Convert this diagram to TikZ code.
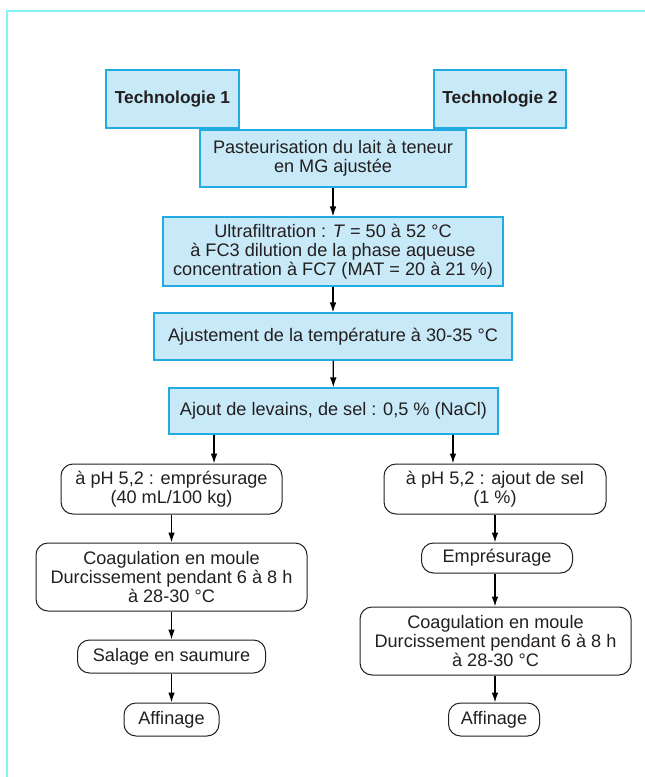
\documentclass[tikz,border=0pt]{standalone}
\usepackage{fontspec}
\setmainfont{Liberation Sans}
\usetikzlibrary{arrows.meta}
\definecolor{cadre}{HTML}{80F6F8}
\definecolor{bleufond}{HTML}{C8E9F8}
\definecolor{bleutrait}{HTML}{22AAE2}
\definecolor{encre}{HTML}{231F20}
\tikzset{
  etape/.style={draw=bleutrait, fill=bleufond, line width=0.9pt, inner sep=0.75pt, align=center, text=encre},
  phase/.style={draw=encre, rounded corners=9pt, line width=0.75pt, inner sep=0.75pt, align=center, text=encre},
  fleche/.style={-{Latex[length=7.5pt,width=5pt]}, line width=1pt, black},
}
\begin{document}
\begin{tikzpicture}[x=0.75pt,y=0.75pt,yscale=-1,xscale=1,font=\fontsize{13.6}{14.4}\selectfont]
\useasboundingbox (0,0) rectangle (645,777);

%Frame
\draw [cadre, line width=1.4pt] (7,777) -- (7,11) -- (645,11) ;

% Text Node
\draw (172.5,99) node (tech1) [etape, minimum width=99.75pt, minimum height=43.5pt] [font=\fontsize{13}{14.4}\selectfont\bfseries] {Technologie 1};
% Text Node
\draw (500,99) node (tech2) [etape, minimum width=99pt, minimum height=43.5pt] [font=\fontsize{13}{14.4}\selectfont\bfseries] {Technologie 2};
% Text Node
\draw (333,158.5) node (past) [etape, minimum width=199.5pt, minimum height=42.75pt] {Pasteurisation du lait à teneur\\en MG ajustée};
% Text Node
\draw (333,251.5) node (ultra) [etape, minimum width=255pt, minimum height=51.75pt] {Ultrafiltration : \textit{T} = 50 à 52 °C\\à FC3 dilution de la phase aqueuse\\concentration à FC7 (MAT = 20 à 21 \%)};
% Text Node
\draw (333,336.5) node (ajust) [etape, minimum width=268.5pt, minimum height=35.25pt] {Ajustement de la température à 30-35 °C};
% Text Node
\draw (333.5,411) node (ajout) [etape, minimum width=246.75pt, minimum height=34.5pt] {Ajout de levains, de sel : 0,5 \% (NaCl)};

% Text Node
\draw (171.5,489) node (ph1) [phase, minimum width=165.75pt, minimum height=37.5pt] {à pH 5,2 : emprésurage\\(40 mL/100 kg)};
% Text Node
\draw (171.5,577) node (coag1) [phase, minimum width=203.25pt, minimum height=51pt] {Coagulation en moule\\Durcissement pendant 6 à 8 h\\à 28-30 °C};
% Text Node
\draw (171.5,656.5) node (sal) [phase, minimum width=141pt, minimum height=24.75pt] {Salage en saumure};
% Text Node
\draw (171.5,719.5) node (aff1) [phase, minimum width=71.25pt, minimum height=24.75pt] {Affinage};

% Text Node
\draw (495,489) node (ph2) [phase, minimum width=166.5pt, minimum height=37.5pt] {à pH 5,2 : ajout de sel\\(1 \%)};
% Text Node
\draw (497,558) node (emp) [phase, minimum width=113.25pt, minimum height=22.5pt] {Emprésurage};
% Text Node
\draw (495.5,641) node (coag2) [phase, minimum width=203.25pt, minimum height=51pt] {Coagulation en moule\\Durcissement pendant 6 à 8 h\\à 28-30 °C};
% Text Node
\draw (494,719.5) node (aff2) [phase, minimum width=68.25pt, minimum height=24.75pt] {Affinage};

%Straight Lines
\draw [fleche] (past) -- (ultra) ;
\draw [fleche] (ultra) -- (ajust) ;
\draw [fleche] (ajust) -- (ajout) ;
%Straight Lines
\draw [fleche] ([xshift=-89.6pt]ajout.south) -- ([xshift=-89.6pt]ajout.south |- ph1.north) ;
\draw [fleche] ([xshift=89.6pt]ajout.south) -- ([xshift=89.6pt]ajout.south |- ph2.north) ;
%Straight Lines
\draw [fleche] (ph1) -- (coag1) ;
\draw [fleche] (coag1) -- (sal) ;
\draw [fleche] (sal) -- (aff1) ;
%Straight Lines
\draw [fleche] (ph2.south) -- (ph2.south |- emp.north) ;
\draw [fleche] (ph2.south |- emp.south) -- (ph2.south |- coag2.north) ;
\draw [fleche] (ph2.south |- coag2.south) -- (ph2.south |- aff2.north) ;

\end{tikzpicture}
\end{document}
